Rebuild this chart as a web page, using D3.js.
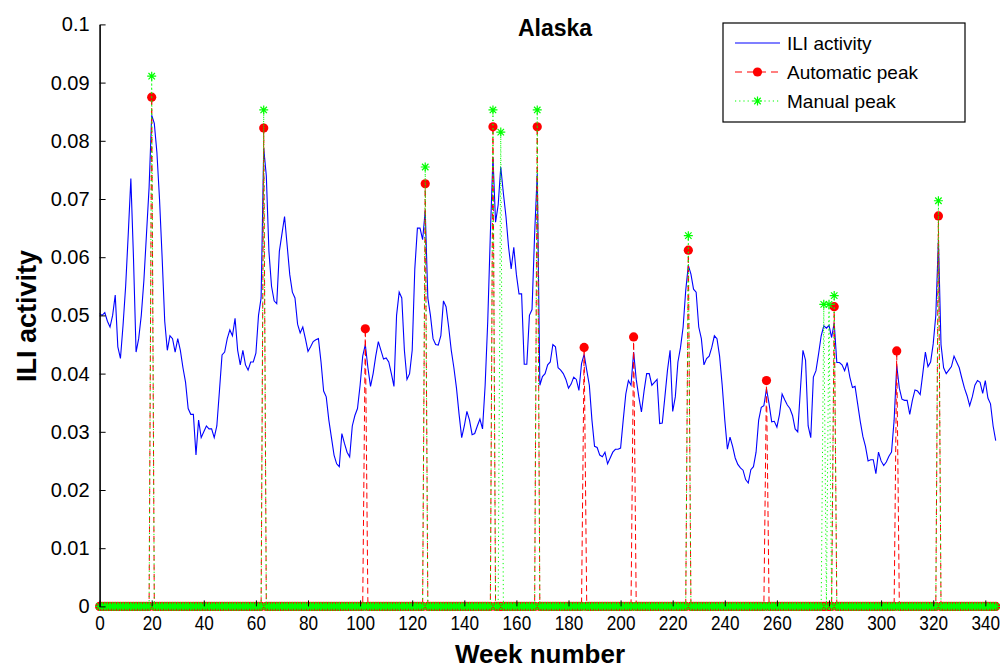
<!DOCTYPE html>
<html>
<head>
<meta charset="utf-8">
<script src="https://cdn.jsdelivr.net/npm/d3@7"></script>
<style>
  body { margin: 0; background: #fff; }
  text { font-family: "Liberation Sans", Arial, sans-serif; }
</style>
</head>
<body>
<script>
// weekly ILI activity, week 0 .. 344
var iliActivity = [
  0.0503, 0.0500, 0.0505, 0.0490, 0.0480, 0.0500, 0.0535, 0.0446, 0.0426, 0.0483,
  0.0550, 0.0640, 0.0735, 0.0600, 0.0437, 0.0460, 0.0500, 0.0560, 0.0640, 0.0720,
  0.0844, 0.0830, 0.0780, 0.0700, 0.0600, 0.0490, 0.0440, 0.0465, 0.0460, 0.0437,
  0.0460, 0.0440, 0.0410, 0.0385, 0.0340, 0.0330, 0.0330, 0.0260, 0.0320, 0.0290,
  0.0300, 0.0310, 0.0305, 0.0305, 0.0290, 0.0310, 0.0370, 0.0432, 0.0437, 0.0460,
  0.0475, 0.0465, 0.0495, 0.0440, 0.0415, 0.0440, 0.0415, 0.0406, 0.0420, 0.0420,
  0.0435, 0.0500, 0.0530, 0.0787, 0.0740, 0.0610, 0.0550, 0.0525, 0.0520, 0.0610,
  0.0640, 0.0670, 0.0620, 0.0570, 0.0540, 0.0530, 0.0485, 0.0470, 0.0480, 0.0460,
  0.0438, 0.0446, 0.0455, 0.0458, 0.0460, 0.0420, 0.0370, 0.0360, 0.0320, 0.0290,
  0.0260, 0.0245, 0.0240, 0.0297, 0.0280, 0.0265, 0.0257, 0.0310, 0.0328, 0.0340,
  0.0380, 0.0430, 0.0450, 0.0410, 0.0378, 0.0400, 0.0430, 0.0455, 0.0440, 0.0425,
  0.0427, 0.0420, 0.0400, 0.0378, 0.0500, 0.0540, 0.0530, 0.0440, 0.0390, 0.0400,
  0.0440, 0.0580, 0.0650, 0.0650, 0.0630, 0.0680, 0.0530, 0.0500, 0.0460, 0.0450,
  0.0449, 0.0465, 0.0525, 0.0515, 0.0480, 0.0440, 0.0410, 0.0375, 0.0330, 0.0290,
  0.0310, 0.0335, 0.0320, 0.0295, 0.0297, 0.0310, 0.0322, 0.0305, 0.0380, 0.0490,
  0.0640, 0.0772, 0.0660, 0.0690, 0.0755, 0.0710, 0.0670, 0.0617, 0.0580, 0.0617,
  0.0570, 0.0537, 0.0537, 0.0416, 0.0416, 0.0500, 0.0510, 0.0640, 0.0744, 0.0380,
  0.0395, 0.0400, 0.0415, 0.0420, 0.0450, 0.0446, 0.0410, 0.0406, 0.0400, 0.0390,
  0.0375, 0.0382, 0.0394, 0.0390, 0.0371, 0.0417, 0.0433, 0.0406, 0.0380, 0.0320,
  0.0275, 0.0273, 0.0260, 0.0257, 0.0265, 0.0245, 0.0255, 0.0265, 0.0270, 0.0270,
  0.0272, 0.0320, 0.0365, 0.0388, 0.0380, 0.0437, 0.0390, 0.0360, 0.0334, 0.0370,
  0.0400, 0.0400, 0.0380, 0.0385, 0.0390, 0.0314, 0.0315, 0.0360, 0.0406, 0.0440,
  0.0335, 0.0360, 0.0420, 0.0445, 0.0480, 0.0543, 0.0586, 0.0571, 0.0545, 0.0540,
  0.0480, 0.0460, 0.0415, 0.0426, 0.0430, 0.0445, 0.0465, 0.0460, 0.0430, 0.0380,
  0.0320, 0.0270, 0.0291, 0.0275, 0.0255, 0.0244, 0.0238, 0.0234, 0.0218, 0.0212,
  0.0235, 0.0240, 0.0265, 0.0320, 0.0342, 0.0345, 0.0374, 0.0348, 0.0317, 0.0318,
  0.0308, 0.0330, 0.0365, 0.0355, 0.0346, 0.0340, 0.0328, 0.0305, 0.0300, 0.0371,
  0.0440, 0.0423, 0.0310, 0.0290, 0.0394, 0.0405, 0.0434, 0.0465, 0.0482, 0.0478,
  0.0483, 0.0462, 0.0487, 0.0419, 0.0419, 0.0415, 0.0405, 0.0419, 0.0394, 0.0376,
  0.0378, 0.0348, 0.0318, 0.0292, 0.0275, 0.0250, 0.0252, 0.0252, 0.0228, 0.0265,
  0.0250, 0.0242, 0.0248, 0.0258, 0.0265, 0.0320, 0.0414, 0.0375, 0.0356, 0.0354,
  0.0354, 0.0330, 0.0354, 0.0372, 0.0370, 0.0364, 0.0400, 0.0437, 0.0412, 0.0420,
  0.0451, 0.0500, 0.0630, 0.0450, 0.0410, 0.0400, 0.0406, 0.0412, 0.0430, 0.0420,
  0.0410, 0.0392, 0.0375, 0.0362, 0.0345, 0.0360, 0.0380, 0.0388, 0.0385, 0.0366,
  0.0388, 0.0358, 0.0348, 0.0310, 0.0285
];

var autoPeakWeeks  = [20, 63, 102, 125, 151, 168, 186, 205, 226, 256, 282, 306, 322];
var autoPeakValues = [0.0875, 0.0822, 0.0477, 0.0726, 0.0824, 0.0824, 0.0445, 0.0463, 0.0612, 0.0388, 0.0515, 0.0439, 0.0671];

var manualPeakWeeks  = [20, 63, 125, 151, 154, 168, 226, 278, 280, 282, 322];
var manualPeakValues = [0.0911, 0.0853, 0.0755, 0.0853, 0.0815, 0.0853, 0.0637, 0.0519, 0.0519, 0.0534, 0.0697];

var xTicks = [0, 20, 40, 60, 80, 100, 120, 140, 160, 180, 200, 220, 240, 260, 280, 300, 320, 340];
var yTicks = [0, 0.01, 0.02, 0.03, 0.04, 0.05, 0.06, 0.07, 0.08, 0.09, 0.1];
var yTickLabels = ["0", "0.01", "0.02", "0.03", "0.04", "0.05", "0.06", "0.07", "0.08", "0.09", "0.1"];

var legendLabels = ["ILI activity", "Automatic peak", "Manual peak"];

var width = 1000, height = 669;

var x = d3.scaleLinear().domain([0, 346]).range([99.6, 99.6 + 346 * 2.605]);
var y = d3.scaleLinear().domain([0, 0.1]).range([606.4, 24.4]);

// peak series: zero everywhere except at the peak weeks
function peakSeries(weeks, values) {
  var s = iliActivity.map(function() { return 0; });
  weeks.forEach(function(w, i) { s[w] = values[i]; });
  return s;
}
var autoSeries = peakSeries(autoPeakWeeks, autoPeakValues);
var manualSeries = peakSeries(manualPeakWeeks, manualPeakValues);

var svg = d3.select("body").append("svg")
  .attr("width", width)
  .attr("height", height);

var line = d3.line()
  .x(function(d, i) { return x(i); })
  .y(function(d) { return y(d); });

var blue = "#0000ff", red = "#ff0000", green = "#00ff00";

function starPath(r) {
  var k = r * 0.72;
  return "M" + (-r) + ",0L" + r + ",0M0," + (-r) + "L0," + r +
    "M" + (-k) + "," + (-k) + "L" + k + "," + k + "M" + (-k) + "," + k + "L" + k + "," + (-k);
}

// ILI line
svg.append("path")
  .datum(iliActivity)
  .attr("fill", "none")
  .attr("stroke", blue)
  .attr("stroke-width", 1.1)
  .attr("d", line);

// automatic peaks
svg.append("path")
  .datum(autoSeries)
  .attr("fill", "none")
  .attr("stroke", red)
  .attr("stroke-width", 1)
  .attr("stroke-dasharray", "6,3.5")
  .attr("d", line);

svg.append("g")
  .selectAll("circle")
  .data(autoSeries)
  .enter()
  .append("circle")
  .attr("cx", function(d, i) { return x(i); })
  .attr("cy", function(d) { return y(d); })
  .attr("r", 4.6)
  .attr("fill", red);

// manual peaks
svg.append("path")
  .datum(manualSeries)
  .attr("fill", "none")
  .attr("stroke", green)
  .attr("stroke-width", 1)
  .attr("stroke-dasharray", "1.2,3")
  .attr("d", line);

svg.append("g")
  .selectAll("path")
  .data(manualSeries)
  .enter()
  .append("path")
  .attr("transform", function(d, i) { return "translate(" + x(i) + "," + y(d) + ")"; })
  .attr("d", starPath(4.5))
  .attr("stroke", green)
  .attr("stroke-width", 1.2)
  .attr("fill", "none");

// axes
var yAxis = svg.append("g")
  .attr("transform", "translate(" + x(0) + ",0)")
  .call(d3.axisLeft(y)
    .tickValues(yTicks)
    .tickFormat(function(d, i) { return yTickLabels[i]; })
    .tickSizeInner(-6)
    .tickSizeOuter(0)
    .tickPadding(10));

var xAxis = svg.append("g")
  .attr("transform", "translate(0," + y(0) + ")")
  .call(d3.axisBottom(x)
    .tickValues(xTicks)
    .tickSizeInner(-6)
    .tickSizeOuter(0)
    .tickPadding(9));

xAxis.select(".domain").attr("stroke", "none");
yAxis.select(".domain").attr("stroke-width", 1.6);

[xAxis, yAxis].forEach(function(a) {
  a.selectAll("text")
    .attr("font-family", "'Liberation Sans', Arial, sans-serif")
    .attr("font-size", 20)
    .attr("fill", "#000");
  a.selectAll(".tick line").attr("stroke", "#000");
});
// the original tick font is a narrow one
xAxis.selectAll("text").attr("transform", "scale(0.86,1)");

// titles
svg.append("text")
  .attr("x", 555)
  .attr("y", 36)
  .attr("text-anchor", "middle")
  .attr("font-size", 23)
  .attr("font-weight", "bold")
  .text("Alaska");

svg.append("text")
  .attr("x", 540)
  .attr("y", 663)
  .attr("text-anchor", "middle")
  .attr("font-size", 26)
  .attr("font-weight", "bold")
  .text("Week number");

svg.append("text")
  .attr("transform", "translate(36,316) rotate(-90)")
  .attr("text-anchor", "middle")
  .attr("font-size", 27)
  .attr("font-weight", "bold")
  .text("ILI activity");

// legend
var legend = svg.append("g").attr("transform", "translate(723,23)");
legend.append("rect")
  .attr("width", 242)
  .attr("height", 99)
  .attr("fill", "#fff")
  .attr("stroke", "#000")
  .attr("stroke-width", 1.2);

var rows = legend.selectAll(".row")
  .data(legendLabels)
  .enter()
  .append("g")
  .attr("transform", function(d, i) { return "translate(0," + (20 + i * 29) + ")"; });

rows.append("text")
  .attr("x", 64)
  .attr("y", 7)
  .attr("font-size", 19)
  .text(function(d) { return d; });

rows.each(function(d, i) {
  var g = d3.select(this);
  var ln = g.append("line")
    .attr("x1", 12).attr("x2", 57)
    .attr("y1", 0).attr("y2", 0)
    .attr("stroke-width", 1.2);
  if (i == 0) {
    ln.attr("stroke", blue);
  } else if (i == 1) {
    ln.attr("stroke", red).attr("stroke-dasharray", "7,5");
    g.append("circle").attr("cx", 34.5).attr("cy", 0).attr("r", 4.6).attr("fill", red);
  } else {
    ln.attr("stroke", green).attr("stroke-dasharray", "1.2,3");
    g.append("path").attr("transform", "translate(34.5,0)")
      .attr("d", starPath(4.5)).attr("stroke", green).attr("stroke-width", 1.2);
  }
});
</script>
</body>
</html>
